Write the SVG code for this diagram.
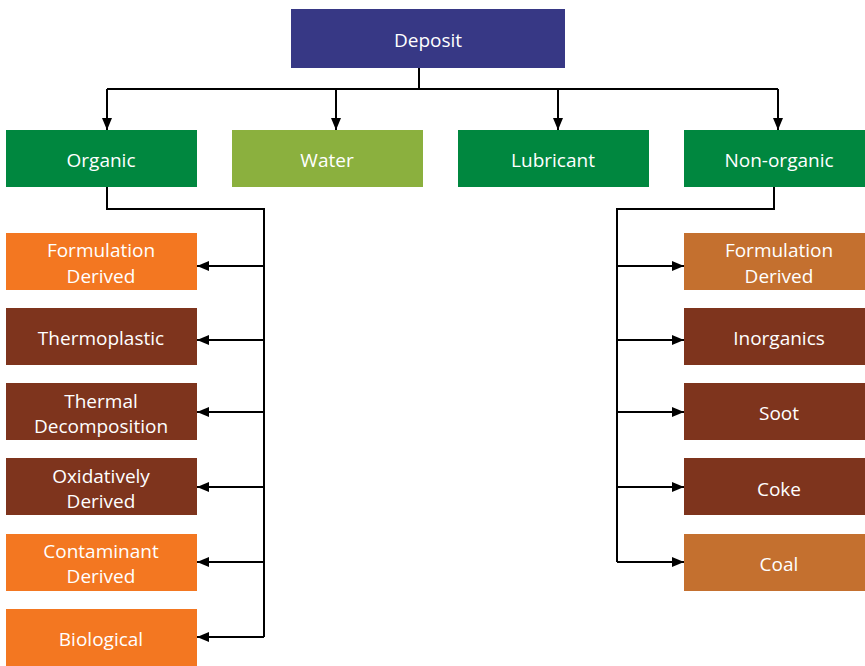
<svg xmlns="http://www.w3.org/2000/svg" width="865" height="666" viewBox="0 0 865 666">
<style>
text{font-family:"Open Sans","Liberation Sans",sans-serif;font-size:19px;fill:#fff;text-anchor:middle;dominant-baseline:central}
.c{fill:none;stroke:#000;stroke-width:2}
.dep{fill:#373885}.grn{fill:#00873F}.wat{fill:#8BB03E}.org{fill:#F37721}.brn{fill:#7E341D}.tan{fill:#C4702F}
</style>
<defs>
<marker id="a" markerWidth="12" markerHeight="10" refX="12" refY="5" orient="auto" markerUnits="userSpaceOnUse"><path d="M0,0L12,5L0,10z" fill="#000"/></marker>
</defs>
<rect width="865" height="666" fill="#fff"/>
<g id="connectors">
<path class="c" d="M419,68V89M107,89H778"/>
<path class="c" d="M107,89V130" marker-end="url(#a)"/>
<path class="c" d="M336,89V130" marker-end="url(#a)"/>
<path class="c" d="M558,89V130" marker-end="url(#a)"/>
<path class="c" d="M778,89V130" marker-end="url(#a)"/>
<path class="c" d="M107,187V209H264V637"/>
<path class="c" d="M264,266H197" marker-end="url(#a)"/>
<path class="c" d="M264,340H197" marker-end="url(#a)"/>
<path class="c" d="M264,412H197" marker-end="url(#a)"/>
<path class="c" d="M264,487H197" marker-end="url(#a)"/>
<path class="c" d="M264,562H197" marker-end="url(#a)"/>
<path class="c" d="M264,637H197" marker-end="url(#a)"/>
<path class="c" d="M774,187V209H617V562"/>
<path class="c" d="M617,266H684" marker-end="url(#a)"/>
<path class="c" d="M617,340H684" marker-end="url(#a)"/>
<path class="c" d="M617,412H684" marker-end="url(#a)"/>
<path class="c" d="M617,487H684" marker-end="url(#a)"/>
<path class="c" d="M617,562H684" marker-end="url(#a)"/>
</g>
<g id="deposit"><rect class="dep" x="291" y="9" width="274" height="59"/><text x="428" y="40">Deposit</text></g>
<g id="organic"><rect class="grn" x="6" y="130" width="191" height="57"/><text x="101" y="160">Organic</text></g>
<g id="water"><rect class="wat" x="232" y="130" width="191" height="57"/><text x="327" y="160">Water</text></g>
<g id="lubricant"><rect class="grn" x="458" y="130" width="191" height="57"/><text x="553" y="160">Lubricant</text></g>
<g id="nonorganic"><rect class="grn" x="684" y="130" width="181" height="57"/><text x="779" y="160">Non-organic</text></g>
<g id="o-formulation"><rect class="org" x="6" y="233" width="191" height="57"/><text x="101" y="250">Formulation</text><text x="101" y="276">Derived</text></g>
<g id="o-thermoplastic"><rect class="brn" x="6" y="308" width="191" height="57"/><text x="101" y="338">Thermoplastic</text></g>
<g id="o-thermal"><rect class="brn" x="6" y="383" width="191" height="57"/><text x="101" y="401">Thermal</text><text x="101" y="426">Decomposition</text></g>
<g id="o-oxidatively"><rect class="brn" x="6" y="458" width="191" height="57"/><text x="101" y="476">Oxidatively</text><text x="101" y="501">Derived</text></g>
<g id="o-contaminant"><rect class="org" x="6" y="534" width="191" height="57"/><text x="101" y="551">Contaminant</text><text x="101" y="576">Derived</text></g>
<g id="o-biological"><rect class="org" x="6" y="609" width="191" height="57"/><text x="101" y="639">Biological</text></g>
<g id="n-formulation"><rect class="tan" x="684" y="233" width="181" height="57"/><text x="779" y="250">Formulation</text><text x="779" y="276">Derived</text></g>
<g id="n-inorganics"><rect class="brn" x="684" y="308" width="181" height="57"/><text x="779" y="338">Inorganics</text></g>
<g id="n-soot"><rect class="brn" x="684" y="383" width="181" height="57"/><text x="779" y="413">Soot</text></g>
<g id="n-coke"><rect class="brn" x="684" y="458" width="181" height="57"/><text x="779" y="489">Coke</text></g>
<g id="n-coal"><rect class="tan" x="684" y="534" width="181" height="57"/><text x="779" y="564">Coal</text></g>
</svg>
